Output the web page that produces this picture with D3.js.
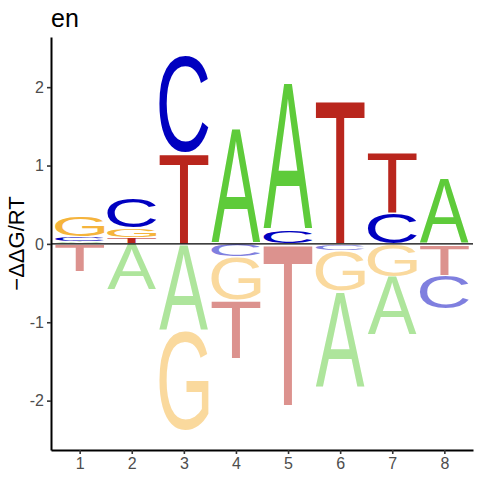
<!doctype html>
<html>
<head>
<meta charset="utf8">
<title>en</title>
<script src="https://cdn.jsdelivr.net/npm/d3@7/dist/d3.min.js"></script>
<style>
    body { margin: 0; background: #fff; }
    svg { display: block; }
</style>
</head>
<body>
<div id="board"></div>
<script>
"use strict";
// energy per position for each base (positive = up, negative = down)
const positions = [1, 2, 3, 4, 5, 6, 7, 8];
const bases = ["A", "C", "G", "T"];
const energyA = [0.025, -0.59, -1.11, 1.47, 1.875, -1.22, -0.75, 0.84];
const energyC = [0.06, 0.39, 1.24, -0.17, 0.175, -0.09, 0.40, -0.43];
const energyG = [0.27, 0.12, -1.28, -0.55, 0, -0.52, -0.42, 0];
const energyT = [-0.35, 0.075, 1.16, -0.74, -2.06, 1.83, 0.78, -0.40];
const yTicks = [-2, -1, 0, 1, 2];
const baseColors = { A: "#5ecb3a", C: "#0000c0", G: "#f5b43c", T: "#b9261d" };

const _width = 480, _height = 480;
const margin = { top: 37, right: 7, bottom: 30, left: 51 };
const fontFam = "'Liberation Sans', Arial, sans-serif";

const svg = d3.select("#board").append("svg")
    .attr("width", _width)
    .attr("height", _height);

const xScale = d3.scaleLinear()
    .domain([0.45, 8.55])
    .range([margin.left, _width - margin.right]);

const yScale = d3.scaleLinear()
    .domain([-2.63, 2.64])
    .range([_height - margin.bottom, margin.top]);

// tight glyph bounds from canvas, used to stretch each letter into its box
const ctx = document.createElement("canvas").getContext("2d");
const glyphFontPx = 200;
ctx.font = glyphFontPx + "px " + fontFam;
const glyphBox = {};
bases.forEach(b => {
    const m = ctx.measureText(b);
    glyphBox[b] = {
        x0: -m.actualBoundingBoxLeft, x1: m.actualBoundingBoxRight,
        y0: -m.actualBoundingBoxAscent, y1: m.actualBoundingBoxDescent
    };
});

// build stacks: small magnitudes nearest zero
const energy = { A: energyA, C: energyC, G: energyG, T: energyT };
let letters = [];
positions.forEach((p, i) => {
    const vals = bases.map(b => ({ base: b, v: energy[b][i], pos: p }));
    const pos = vals.filter(d => d.v > 0.001).sort((a, b) => a.v - b.v);
    const neg = vals.filter(d => d.v < -0.001).sort((a, b) => b.v - a.v);
    let acc = 0;
    pos.forEach(d => { d.lo = acc; acc += d.v; d.hi = acc; d.neg = false; letters.push(d); });
    acc = 0;
    neg.forEach(d => { d.hi = acc; acc += d.v; d.lo = acc; d.neg = true; letters.push(d); });
});

const letterWidth = 0.94;
const pad = 0.7; // px gap between stacked letters

const letterGroup = svg.append("g");
letterGroup.selectAll("text")
    .data(letters)
    .enter()
    .append("text")
    .attr("font-family", fontFam)
    .attr("font-size", glyphFontPx)
    .attr("fill", d => baseColors[d.base])
    .attr("fill-opacity", d => d.neg ? 0.5 : 1)
    .attr("transform", d => {
        const g = glyphBox[d.base];
        const x0 = xScale(d.pos - letterWidth / 2), x1 = xScale(d.pos + letterWidth / 2);
        const yTop = yScale(d.hi) + pad, yBot = yScale(d.lo) - pad;
        const sx = (x1 - x0) / (g.x1 - g.x0);
        const sy = Math.max(yBot - yTop, 0.3) / (g.y1 - g.y0);
        const tx = x0 - g.x0 * sx, ty = yTop - g.y0 * sy;
        return "translate(" + tx + "," + ty + ") scale(" + sx + "," + sy + ")";
    })
    .text(d => d.base);

// zero line
svg.append("line")
    .attr("x1", xScale.range()[0]).attr("x2", xScale.range()[1])
    .attr("y1", yScale(0)).attr("y2", yScale(0))
    .attr("stroke", "#000").attr("stroke-width", 1.1);

// axes
const xAxis = d3.axisBottom(xScale).tickValues(positions).tickSize(4).tickPadding(4).tickFormat(d3.format("d"));
const yAxis = d3.axisLeft(yScale).tickValues(yTicks).tickSize(4).tickPadding(3).tickFormat(d => d < 0 ? "-" + Math.abs(d) : d);

function styleAxis(g) {
    g.select(".domain").attr("stroke", "#000").attr("stroke-width", 2);
    g.selectAll(".tick line").attr("stroke", "#333").attr("stroke-width", 1.6);
    g.selectAll(".tick text").attr("fill", "#4d4d4d").attr("font-size", 16).attr("font-family", fontFam);
}

svg.append("g")
    .attr("transform", "translate(0," + (_height - margin.bottom) + ")")
    .call(xAxis.tickSizeOuter(0))
    .call(styleAxis);

svg.append("g")
    .attr("transform", "translate(" + margin.left + ",0)")
    .call(yAxis.tickSizeOuter(0))
    .call(styleAxis);

// title and y label
svg.append("text")
    .attr("x", margin.left).attr("y", 27)
    .attr("font-family", fontFam).attr("font-size", 25)
    .attr("fill", "#000")
    .text("en");

svg.append("text")
    .attr("transform", "translate(24," + ((margin.top + _height - margin.bottom) / 2) + ") rotate(-90)")
    .attr("text-anchor", "middle")
    .attr("font-family", fontFam).attr("font-size", 22)
    .attr("fill", "#000")
    .text("\u2212\u0394\u0394G/RT");
</script>
</body>
</html>
